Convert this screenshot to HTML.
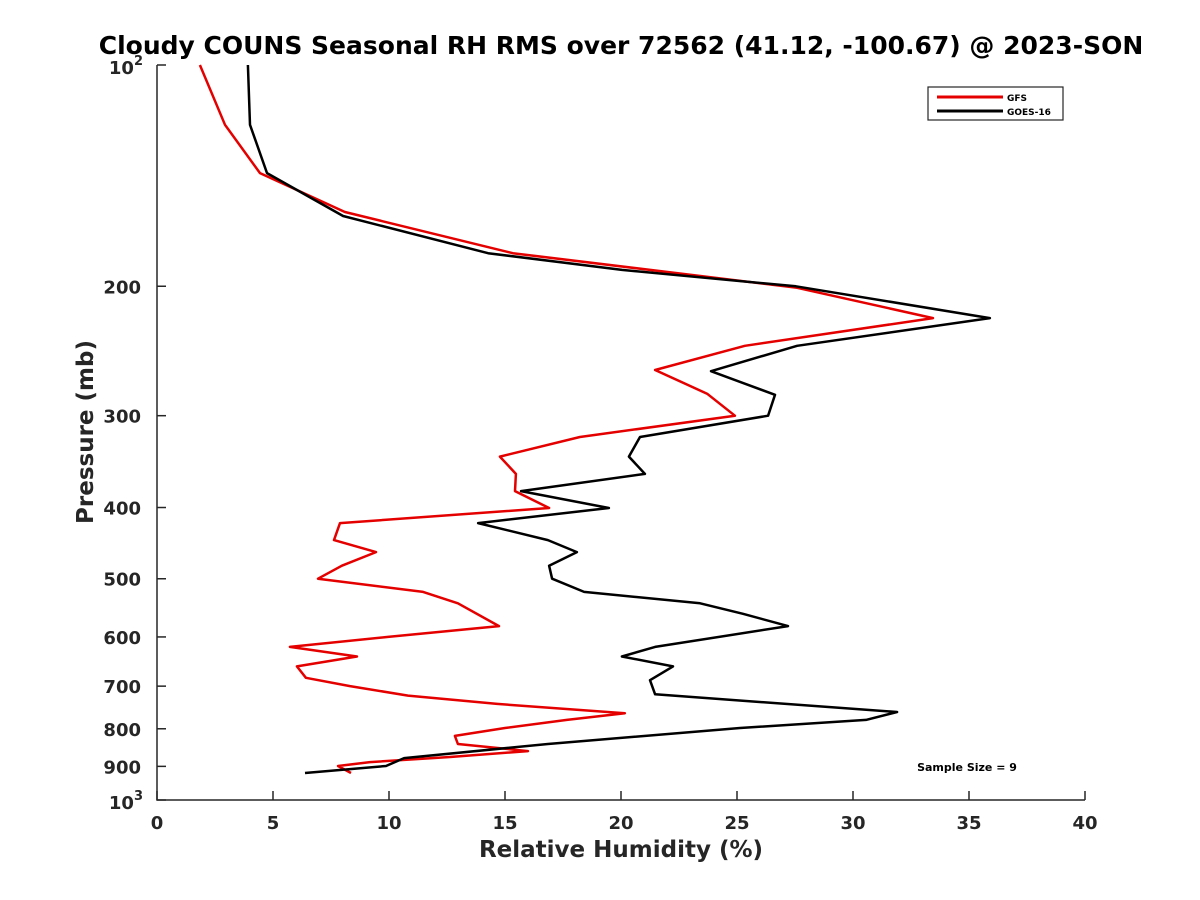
<!DOCTYPE html>
<html><head><meta charset="utf-8"><style>body{margin:0;background:#fff}svg{display:block;font-family:"DejaVu Sans","Liberation Sans",sans-serif}</style></head>
<body>
<svg id="c" width="1200" height="900"></svg>
<script>
const xTicks=[0,5,10,15,20,25,30,35,40];
const yTicks=[200,300,400,500,600,700,800,900];
const gfsRH=[1.85,2.93,4.44,8.10,15.34,27.59,33.45,25.34,21.47,23.71,24.91,18.23,14.78,15.47,15.43,16.90,7.89,7.63,9.44,7.97,6.94,11.47,12.97,14.74,9.96,5.73,8.62,6.03,6.42,8.32,10.82,14.66,20.17,17.67,15.0,12.84,12.97,15.99,12.63,9.18,7.80,8.36];
const gfsP=[100,120.6,140.3,158.5,180.3,201,221,241,260,280,300,320.7,341,360,380,400.6,420,443,460,480,500,521,540,580,600,619,638,658,682,700,721,740,762,778,798,818,839,858,874,888,899,919];
const goesRH=[3.92,4.01,4.74,8.02,14.27,20.04,27.54,35.9,27.59,23.88,26.64,26.34,20.82,20.34,21.03,15.69,19.48,13.84,16.85,18.10,16.90,17.03,18.41,23.41,25.26,27.2,21.47,20.04,22.24,21.25,21.47,31.9,30.56,25.13,16.85,10.65,9.87,6.38];
const goesP=[100,120.6,140.3,160.5,180.3,190,200,221,241,261,281,300,320.7,341,360,380,400.6,420,443,460,480,500,521,540,558,580,619,638,658,687,718,759,778,798,839,877,899,919];
const X0=157,X1=1085,Y0=65,Y1=800;
const sx=v=>X0+(v/40)*(X1-X0);
const sy=p=>Y0+(Math.log10(p)-2)*(Y1-Y0);
const svg=document.getElementById('c');const NS='http://www.w3.org/2000/svg';
function el(t,a,txt){const e=document.createElementNS(NS,t);for(const k in a)e.setAttribute(k,a[k]);if(txt!==undefined)e.textContent=txt;svg.appendChild(e);return e;}
let e;
e=el('text',{x:621,y:54,'text-anchor':'middle','font-size':25,'font-weight':'bold',fill:'#000'},'Cloudy COUNS Seasonal RH RMS over 72562 (41.12, -100.67) @ 2023-SON');


e=el('path',{d:`M${X0},${Y0}V${Y1}H${X1}`,stroke:'#262626',fill:'none','stroke-width':1.5});


xTicks.forEach(v=>{
 e=el('line',{x1:sx(v),x2:sx(v),y1:Y1,y2:Y1-9,stroke:'#262626','stroke-width':1.5});
 
 
 e=el('text',{x:sx(v),y:Y1+29,'text-anchor':'middle','font-size':18,'font-weight':'bold',fill:'#262626'},String(v));
 
 
});
yTicks.forEach(v=>{
 e=el('line',{x1:X0,x2:X0+9,y1:sy(v),y2:sy(v),stroke:'#262626','stroke-width':1.5});
 
 
 e=el('text',{x:X0-16,y:sy(v)+7,'text-anchor':'end','font-size':18,'font-weight':'bold',fill:'#262626'},String(v));
 
 
});
[[100,'2'],[1000,'3']].forEach(([p,ex])=>{
 e=el('line',{x1:X0,x2:X0+9,y1:sy(p),y2:sy(p),stroke:'#262626','stroke-width':1.5});
 
 
 const t=el('text',{x:X0-14,y:sy(p)+9,'text-anchor':'end','font-size':18,'font-weight':'bold',fill:'#262626'});
 t.innerHTML='10<tspan dy="-9" font-size="13">'+ex+'</tspan>';
 
 
});
e=el('text',{x:621,y:857,'text-anchor':'middle','font-size':23,'font-weight':'bold',fill:'#262626'},'Relative Humidity (%)');


e=el('text',{x:93,y:432,'text-anchor':'middle','font-size':23,'font-weight':'bold',fill:'#262626',transform:'rotate(-90 93 432)'},'Pressure (mb)');


function line(rh,p,color,name){
 const d=rh.map((v,i)=>(i?'L':'M')+sx(v).toFixed(1)+','+sy(p[i]).toFixed(1)).join('');
 const l=el('path',{d,stroke:color,fill:'none','stroke-width':2.5,'stroke-linejoin':'round'});
 
 
}
line(gfsRH,gfsP,'#e50000','gfs-line');
line(goesRH,goesP,'#000000','goes16-line');
e=el('rect',{x:928,y:87,width:135,height:33,fill:'#fff',stroke:'#262626','stroke-width':1.2});


e=el('line',{x1:937,x2:1003,y1:97,y2:97,stroke:'#e50000','stroke-width':3});


e=el('text',{x:1007,y:101,'font-size':9,'font-weight':'bold'},'GFS');


e=el('line',{x1:937,x2:1003,y1:111,y2:111,stroke:'#000','stroke-width':3});


e=el('text',{x:1007,y:115,'font-size':9,'font-weight':'bold'},'GOES-16');


e=el('text',{x:967,y:771,'text-anchor':'middle','font-size':11,'font-weight':'bold'},'Sample Size = 9');


</script>
</body></html>
